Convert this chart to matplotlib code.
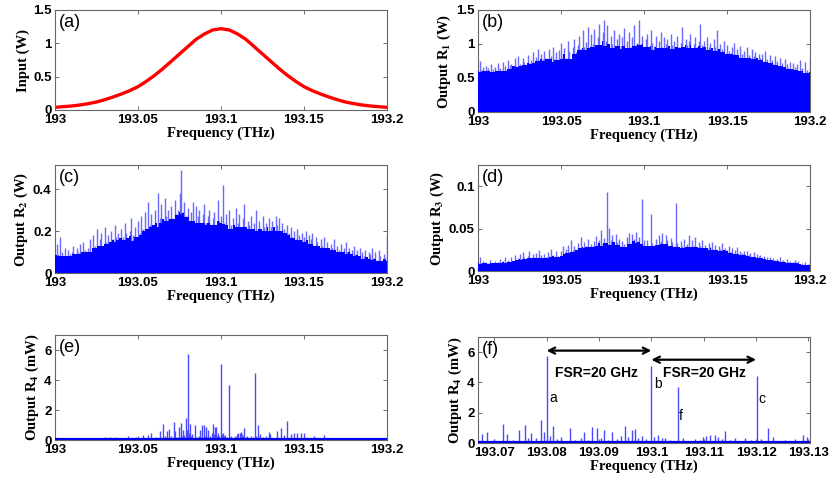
import numpy as np
import pandas as pd
import matplotlib
matplotlib.use("Agg")
import matplotlib.pyplot as plt

plt.rcParams['mathtext.fontset'] = 'stix'

# ---- data ----
# (a) input pulse, W, every 0.005 THz from 193.0 to 193.2
freq_a = np.linspace(193.0, 193.2, 41)
input_w = [0.04, 0.05, 0.06, 0.075, 0.095, 0.12, 0.155, 0.195, 0.24, 0.29,
           0.35, 0.43, 0.52, 0.62, 0.73, 0.84, 0.95, 1.06, 1.14, 1.20,
           1.22,
           1.20, 1.14, 1.06, 0.95, 0.84, 0.73, 0.62, 0.52, 0.43, 0.35,
           0.29, 0.24, 0.195, 0.155, 0.12, 0.095, 0.075, 0.06, 0.05, 0.04]

# (b)-(d) outputs, every 0.001 THz from 193.0 to 193.2
freq_grid = np.linspace(193.0, 193.2, 201)
out_r1 = [0.58, 0.75, 0.62, 0.66, 0.60, 0.68, 0.64, 0.57, 0.70, 0.63,
          0.66, 0.59, 0.72, 0.65, 0.61, 0.74, 0.67, 0.60, 0.76, 0.69,
          0.71, 0.64, 0.79, 0.68, 0.82, 0.70, 0.66, 0.80, 0.73, 0.69,
          0.84, 0.72, 0.76, 0.88, 0.70, 0.81, 0.92, 0.75, 0.85, 0.78,
          0.90, 0.80, 0.74, 0.92, 0.83, 0.95, 0.78, 0.88, 0.65, 0.91,
          1.02, 0.86, 0.94, 0.80, 1.05, 0.90, 0.55, 0.96, 1.08, 0.88,
          0.98, 1.12, 0.92, 1.20, 0.95, 1.03, 1.25, 0.90, 1.15, 1.00,
          1.22, 0.96, 1.10, 1.30, 0.98, 1.18, 1.35, 1.05, 1.28, 0.95,
          1.12, 1.00, 1.20, 0.92, 1.08, 1.15, 0.97, 1.10, 1.24, 0.93,
          1.05, 1.18, 0.95, 1.10, 1.28, 0.98, 1.02, 1.35, 1.00, 1.12,
          0.96, 1.08, 1.15, 0.92, 1.20, 1.02, 0.97, 1.12, 0.88, 1.05,
          1.18, 0.95, 1.10, 1.00, 1.08, 0.93, 1.15, 0.98, 1.05, 0.90,
          1.12, 0.96, 1.02, 1.25, 0.94, 1.08, 0.99, 1.05, 1.15, 0.92,
          1.00, 1.10, 0.95, 1.05, 1.30, 0.98, 1.04, 0.92, 1.10, 0.96,
          1.02, 0.90, 1.08, 0.95, 1.20, 0.88, 1.00, 0.93, 1.05, 0.86,
          0.98, 0.90, 0.84, 0.95, 1.02, 0.86, 0.92, 0.80, 0.97, 0.85,
          0.90, 0.80, 0.95, 0.84, 0.78, 0.92, 0.82, 0.88, 0.76, 0.85,
          0.80, 0.86, 0.74, 0.90, 0.78, 0.72, 0.84, 0.76, 0.70, 0.82,
          0.75, 0.68, 0.80, 0.72, 0.66, 0.78, 0.70, 0.64, 0.74, 0.62,
          0.72, 0.66, 0.70, 0.60, 0.76, 0.64, 0.58, 0.74, 0.62, 0.56,
          0.78]
out_r2 = [0.08, 0.14, 0.09, 0.17, 0.10, 0.08, 0.12, 0.07, 0.11, 0.09,
          0.10, 0.13, 0.08, 0.12, 0.10, 0.14, 0.09, 0.15, 0.11, 0.10,
          0.12, 0.16, 0.10, 0.18, 0.13, 0.21, 0.12, 0.16, 0.19, 0.13,
          0.22, 0.15, 0.18, 0.14, 0.20, 0.16, 0.23, 0.17, 0.19, 0.15,
          0.21, 0.17, 0.24, 0.19, 0.16, 0.20, 0.26, 0.18, 0.22, 0.10,
          0.25, 0.19, 0.27, 0.21, 0.29, 0.20, 0.34, 0.23, 0.28, 0.22,
          0.30, 0.24, 0.38, 0.26, 0.33, 0.22, 0.36, 0.27, 0.30, 0.25,
          0.32, 0.26, 0.35, 0.28, 0.30, 0.38, 0.49, 0.29, 0.34, 0.27,
          0.31, 0.25, 0.29, 0.34, 0.24, 0.32, 0.27, 0.30, 0.22, 0.28,
          0.33, 0.24, 0.27, 0.30, 0.23, 0.26, 0.29, 0.22, 0.35, 0.25,
          0.27, 0.42, 0.24, 0.28, 0.20, 0.30, 0.23, 0.26, 0.21, 0.31,
          0.24, 0.28, 0.22, 0.26, 0.33, 0.21, 0.25, 0.23, 0.27, 0.20,
          0.24, 0.30, 0.21, 0.25, 0.19, 0.27, 0.22, 0.24, 0.20, 0.26,
          0.22, 0.25, 0.19, 0.27, 0.23, 0.26, 0.20, 0.24, 0.21, 0.18,
          0.23, 0.19, 0.22, 0.17, 0.20, 0.16, 0.21, 0.18, 0.15, 0.19,
          0.17, 0.20, 0.14, 0.18, 0.16, 0.19, 0.13, 0.17, 0.15, 0.12,
          0.16, 0.13, 0.17, 0.12, 0.15, 0.11, 0.14, 0.12, 0.16, 0.10,
          0.13, 0.11, 0.14, 0.09, 0.12, 0.15, 0.10, 0.12, 0.08, 0.11,
          0.13, 0.09, 0.11, 0.07, 0.12, 0.10, 0.08, 0.11, 0.06, 0.10,
          0.09, 0.12, 0.07, 0.10, 0.06, 0.11, 0.08, 0.05, 0.09, 0.07,
          0.18]
out_r3 = [0.010, 0.016, 0.009, 0.012, 0.008, 0.011, 0.009, 0.013, 0.010, 0.008,
          0.012, 0.009, 0.011, 0.014, 0.010, 0.012, 0.016, 0.011, 0.013, 0.009,
          0.017, 0.012, 0.019, 0.013, 0.015, 0.020, 0.014, 0.022, 0.016, 0.013,
          0.018, 0.024, 0.015, 0.020, 0.016, 0.021, 0.017, 0.025, 0.019, 0.015,
          0.020, 0.016, 0.022, 0.018, 0.026, 0.019, 0.017, 0.023, 0.018, 0.015,
          0.024, 0.029, 0.020, 0.026, 0.031, 0.022, 0.036, 0.025, 0.030, 0.023,
          0.033, 0.027, 0.040, 0.028, 0.034, 0.030, 0.038, 0.026, 0.032, 0.029,
          0.035, 0.041, 0.030, 0.037, 0.048, 0.033, 0.039, 0.030, 0.093, 0.051,
          0.036, 0.042, 0.031, 0.044, 0.034, 0.038, 0.029, 0.035, 0.032, 0.027,
          0.040, 0.045, 0.033, 0.044, 0.038, 0.046, 0.035, 0.040, 0.032, 0.085,
          0.037, 0.030, 0.036, 0.029, 0.067, 0.033, 0.028, 0.038, 0.031, 0.042,
          0.035, 0.045, 0.032, 0.043, 0.036, 0.030, 0.039, 0.034, 0.029, 0.080,
          0.033, 0.027, 0.035, 0.030, 0.038, 0.026, 0.032, 0.042, 0.028, 0.036,
          0.030, 0.040, 0.027, 0.034, 0.029, 0.036, 0.025, 0.031, 0.027, 0.033,
          0.028, 0.034, 0.025, 0.031, 0.023, 0.029, 0.026, 0.033, 0.024, 0.027,
          0.025, 0.030, 0.022, 0.027, 0.020, 0.025, 0.028, 0.019, 0.024, 0.021,
          0.023, 0.018, 0.024, 0.019, 0.021, 0.017, 0.022, 0.016, 0.020, 0.018,
          0.019, 0.015, 0.018, 0.014, 0.017, 0.013, 0.016, 0.012, 0.015, 0.013,
          0.014, 0.011, 0.016, 0.012, 0.013, 0.010, 0.014, 0.011, 0.012, 0.009,
          0.011, 0.013, 0.009, 0.012, 0.008, 0.010, 0.007, 0.011, 0.006, 0.008,
          0.017]

# (e)/(f) output R4 lines, mW
r4_freq = [193.021, 193.027, 193.030, 193.033, 193.037, 193.044, 193.046, 193.049,
           193.051, 193.053, 193.056, 193.058, 193.061, 193.063, 193.0653, 193.066,
           193.0676, 193.0687, 193.0700, 193.0717, 193.0725, 193.0735, 193.0747, 193.0759,
           193.0765, 193.0771, 193.0780, 193.0789, 193.0795, 193.0800, 193.0806, 193.0813,
           193.0820, 193.0828, 193.0838, 193.0845, 193.0855, 193.0865, 193.0872, 193.0880,
           193.0886, 193.0896, 193.0903, 193.0910, 193.0917, 193.0924, 193.0935, 193.0943,
           193.0949, 193.0955, 193.0963, 193.0969, 193.0975, 193.0982, 193.0990, 193.1000,
           193.1006, 193.1013, 193.1020, 193.1026, 193.1035, 193.1042, 193.1050, 193.1061,
           193.1070, 193.1083, 193.1092, 193.1099, 193.1105, 193.1112, 193.1122, 193.1128,
           193.1135, 193.1141, 193.1150, 193.1159, 193.1168, 193.1179, 193.1190, 193.1202,
           193.1210, 193.1223, 193.1233, 193.1245, 193.1255, 193.1265, 193.1274, 193.1290,
           193.1297, 193.1335, 193.1360, 193.1380, 193.1400, 193.1420, 193.1440, 193.1460,
           193.1480, 193.1500, 193.1560, 193.1620, 193.1720, 193.1780]
r4_mw = [0.12, 0.15, 0.18, 0.20, 0.18, 0.25, 0.12, 0.20,
         0.15, 0.35, 0.35, 0.45, 0.20, 0.60, 1.10, 0.30,
         0.60, 0.72, 0.25, 1.23, 0.60, 0.20, 0.86, 1.16,
         0.30, 0.64, 0.35, 1.50, 0.70, 5.75, 0.45, 1.10,
         0.25, 0.40, 0.15, 1.00, 0.20, 0.30, 0.70, 0.20,
         1.03, 1.00, 0.30, 0.86, 0.20, 0.70, 0.25, 0.45,
         1.10, 0.40, 0.86, 0.90, 0.30, 0.46, 0.25, 5.10,
         0.40, 0.50, 0.30, 0.35, 0.20, 0.15, 3.67, 0.30,
         0.15, 0.25, 0.20, 0.40, 0.45, 0.50, 0.55, 0.40,
         0.25, 0.80, 0.20, 0.30, 0.15, 0.30, 0.20, 4.44,
         0.25, 1.00, 0.40, 0.15, 0.20, 0.10, 0.25, 0.55,
         0.40, 0.60, 0.80, 0.35, 1.30, 0.40, 0.45, 0.45,
         0.50, 0.45, 0.30, 0.35, 0.10, 0.10]
r4_floor_mw = 0.05

ticks_wide = [193, 193.05, 193.1, 193.15, 193.2]
ticklabels_wide = ['193', '193.05', '193.1', '193.15', '193.2']
ticks_zoom = [193.07, 193.08, 193.09, 193.1, 193.11, 193.12, 193.13]
ticklabels_zoom = ['193.07', '193.08', '193.09', '193.1', '193.11', '193.12', '193.13']

# ---- figure ----
W, H = 832, 486
fig = plt.figure(figsize=(W / 100, H / 100), dpi=100)

def make_ax(l, r, t, b):
    return fig.add_axes([l / W, (H - b) / H, (r - l) / W, (b - t) / H])

tick_font = dict(family='Liberation Sans', weight='bold', size=9.5)
label_font = dict(family='Liberation Serif', weight='bold', size=10.5)

def style(ax, ylabel, yticks, yticklabels, ylim, xticks, xticklabels, xlim, tag):
    ax.set_xlim(xlim)
    ax.set_ylim(ylim)
    ax.set_xticks(xticks)
    ax.set_xticklabels(xticklabels, fontdict=tick_font)
    ax.set_yticks(yticks)
    ax.set_yticklabels(yticklabels, fontdict=tick_font)
    ax.tick_params(direction='in', top=True, right=True, length=3, width=0.6,
                   color='#555555')
    ax.tick_params(axis='x', pad=3)
    ax.tick_params(axis='y', pad=2.5)
    for s in ax.spines.values():
        s.set_color('#666666')
        s.set_linewidth(0.8)
    ax.set_xlabel('Frequency (THz)', fontdict=label_font, labelpad=0)
    ax.set_ylabel(ylabel, fontdict=label_font, labelpad=2)
    ax.text(0.012, 0.96, tag, transform=ax.transAxes, ha='left', va='top',
            family='Liberation Sans', fontsize=13)

def spectrum(ax, x, y):
    # solid core where the lines crowd together, thin lines above it
    y = np.asarray(y)
    core = pd.Series(y).rolling(7, center=True, min_periods=1).quantile(0.15).values
    ax.vlines(x, 0, y, colors='#6a6aff', linewidth=1.0)
    ax.fill_between(x, 0, core, step='mid', color='#0000ff', linewidth=0, zorder=3)

# (a)
ax = make_ax(55, 387, 10, 110)
ax.plot(freq_a, input_w, color='#ff0000', lw=2.4, solid_capstyle='round')
style(ax, 'Input (W)', [0, 0.5, 1, 1.5], ['0', '0.5', '1', '1.5'], (0, 1.5),
      ticks_wide, ticklabels_wide, (193, 193.2), '(a)')

# (b)
ax = make_ax(478, 810, 10, 112)
spectrum(ax, freq_grid, out_r1)
style(ax, r'Output R$_\mathbf{1}$ (W)', [0, 0.5, 1, 1.5], ['0', '0.5', '1', '1.5'], (0, 1.5),
      ticks_wide, ticklabels_wide, (193, 193.2), '(b)')

# (c)
ax = make_ax(55, 387, 165, 273)
spectrum(ax, freq_grid, out_r2)
style(ax, r'Output R$_\mathbf{2}$ (W)', [0, 0.2, 0.4], ['0', '0.2', '0.4'], (0, 0.515),
      ticks_wide, ticklabels_wide, (193, 193.2), '(c)')

# (d)
ax = make_ax(478, 810, 165, 271)
spectrum(ax, freq_grid, out_r3)
style(ax, r'Output R$_\mathbf{3}$ (W)', [0, 0.05, 0.1], ['0', '0.05', '0.1'], (0, 0.125),
      ticks_wide, ticklabels_wide, (193, 193.2), '(d)')

# (e)
ax = make_ax(55, 387, 335, 440)
ax.vlines(r4_freq, 0, r4_mw, colors='#4a4aff', linewidth=1.0)
ax.axhline(r4_floor_mw, color='#0000ee', lw=1.6, zorder=3)
style(ax, r'Output R$_\mathbf{4}$ (mW)', [0, 2, 4, 6], ['0', '2', '4', '6'], (0, 7),
      ticks_wide, ticklabels_wide, (193, 193.2), '(e)')

# (f)
ax = make_ax(478, 810, 337, 443)
ax.vlines(r4_freq, 0, r4_mw, colors='#4a4aff', linewidth=1.0)
ax.axhline(r4_floor_mw, color='#0000ee', lw=1.6, zorder=3)
style(ax, r'Output R$_\mathbf{4}$ (mW)', [0, 2, 4, 6], ['0', '2', '4', '6'], (0, 7),
      ticks_zoom, ticklabels_zoom, (193.0669, 193.1303), '(f)')
arrow = dict(arrowstyle='<->', color='black', lw=1.6, mutation_scale=11,
             shrinkA=0, shrinkB=0)
ax.annotate('', xy=(193.080, 6.1), xytext=(193.100, 6.1), arrowprops=arrow)
ax.annotate('', xy=(193.100, 5.5), xytext=(193.120, 5.5), arrowprops=arrow)
ax.text(193.0895, 4.6, 'FSR=20 GHz', ha='center', va='center',
        family='Liberation Sans', weight='bold', fontsize=10)
ax.text(193.1102, 4.6, 'FSR=20 GHz', ha='center', va='center',
        family='Liberation Sans', weight='bold', fontsize=10)
for lab, x, y in [('a', 193.0812, 3.0), ('b', 193.1012, 3.9),
                  ('f', 193.1057, 1.76), ('c', 193.1212, 2.88)]:
    ax.text(x, y, lab, ha='center', va='center', family='Liberation Sans', fontsize=10)

fig.savefig('out.png', dpi=100)
